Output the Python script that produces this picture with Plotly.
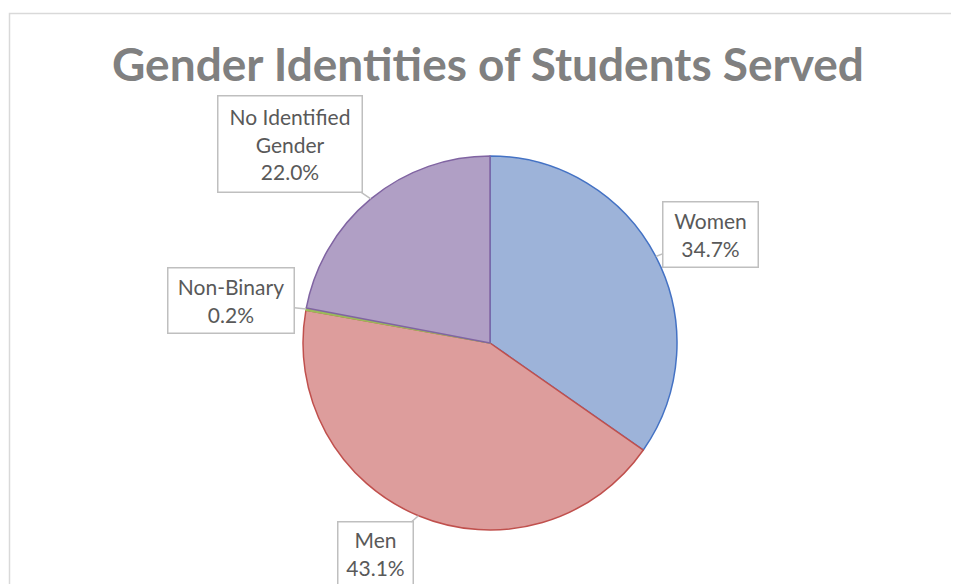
import math
import plotly.graph_objects as go

# ---- data ----
categories = ["Women", "Men", "Non-Binary", "No Identified<br>Gender"]
values = [34.7, 43.1, 0.2, 22.0]

# ---- style ----
fill_colors = ["#9DB3D9", "#DD9D9C", "#9BBB59", "#B09FC5"]
line_colors = ["#4472C4", "#C0504D", "#9BBB59", "#8064A2"]
label_offsets = [(55, -22), (-43, 38), (-75, -9), (-81, -55)]  # pixel offsets of callout boxes
label_sizes = [(96, 66), (76, 64), (127, 66), (145, 97)]

OFF = 8  # page body margin
W, H = 959 - OFF, 584 - OFF
cx, cy, r = 490 - OFF, 343 - OFF, 187  # pie centre & radius in pixels

fig = go.Figure(go.Pie(
    labels=categories,
    values=values,
    sort=False,
    direction="clockwise",
    rotation=0,
    marker=dict(colors=fill_colors, line=dict(color=line_colors, width=1.5)),
    textinfo="none",
    hoverinfo="label+percent",
    domain=dict(x=[(cx - r) / W, (cx + r) / W], y=[1 - (cy + r) / H, 1 - (cy - r) / H]),
    showlegend=False,
))

# callout labels positioned from slice mid-angles
total = sum(values)
cum = 0.0
annotations = []
for cat, v, (ax, ay), (bw, bh) in zip(categories, values, label_offsets, label_sizes):
    mid = (cum + v / 2) / total * 2 * math.pi
    cum += v
    px = cx + r * math.sin(mid)
    py = cy - r * math.cos(mid)
    annotations.append(dict(
        x=px / W, y=1 - py / H, xref="paper", yref="paper",
        text=f"{cat}<br>{v:.1f}%",
        showarrow=True, arrowhead=0, arrowwidth=1.5, arrowcolor="#BFBFBF",
        ax=ax, ay=ay, standoff=0,
        bordercolor="#BFBFBF", borderwidth=1.5, bgcolor="white",
        width=bw - 4, height=bh - 4,
        font=dict(family="Lato", size=21, color="#595959"),
        align="center",
    ))

annotations.append(dict(
    x=(487.5 - OFF) / W, y=1 - (63 - OFF) / H, xref="paper", yref="paper",
    text="<b>Gender Identities of Students Served</b>",
    showarrow=False, xanchor="center", yanchor="middle",
    font=dict(family="Lato", size=46, color="#808080"),
))

fig.update_layout(
    width=W, height=H,
    margin=dict(l=0, r=0, t=0, b=0),
    paper_bgcolor="white",
    annotations=annotations,
    shapes=[dict(type="rect", xref="paper", yref="paper",
                 x0=(9.5 - OFF) / W, x1=1.05, y0=-0.05, y1=1 - (13.5 - OFF) / H,
                 line=dict(color="#D9D9D9", width=1.5), layer="below")],
)

fig.write_html("out.html")
